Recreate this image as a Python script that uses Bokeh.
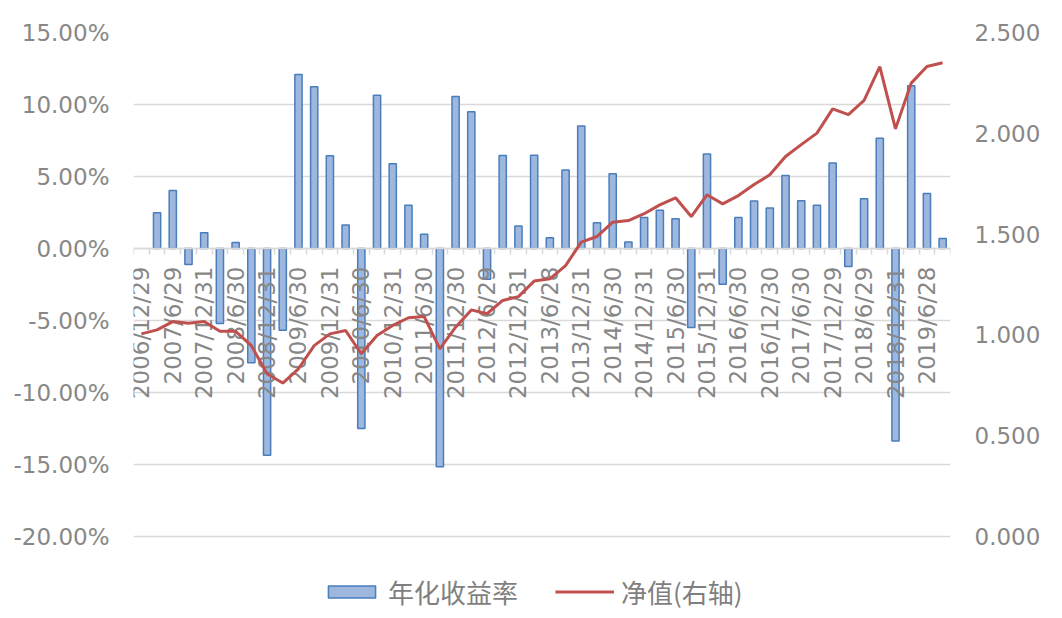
from math import pi
from bokeh.plotting import figure
from bokeh.models import (Range1d, LinearAxis, FixedTicker, PrintfTickFormatter,
                          NumeralTickFormatter, Legend, LegendItem, ColumnDataSource)
from bokeh.embed import file_html
from bokeh.resources import INLINE

# ---------------- data ----------------
dates = [
    "2006/12/29", "2007/3/30", "2007/6/29", "2007/9/28", "2007/12/31", "2008/3/31",
    "2008/6/30", "2008/9/30", "2008/12/31", "2009/3/31", "2009/6/30", "2009/9/30",
    "2009/12/31", "2010/3/31", "2010/6/30", "2010/9/30", "2010/12/31", "2011/3/31",
    "2011/6/30", "2011/9/30", "2011/12/30", "2012/3/30", "2012/6/29", "2012/9/28",
    "2012/12/31", "2013/3/29", "2013/6/28", "2013/9/30", "2013/12/31", "2014/3/31",
    "2014/6/30", "2014/9/30", "2014/12/31", "2015/3/31", "2015/6/30", "2015/9/30",
    "2015/12/31", "2016/3/31", "2016/6/30", "2016/9/30", "2016/12/30", "2017/3/31",
    "2017/6/30", "2017/9/29", "2017/12/29", "2018/3/30", "2018/6/29", "2018/9/28",
    "2018/12/31", "2019/3/29", "2019/6/28", "2019/9/30",
]

# 年化收益率 (%)
annual_return = [
    float("nan"), 2.48, 4.03, -1.11, 1.09, -5.21, 0.42, -7.94, -14.35, -5.67,
    12.08, 11.23, 6.44, 1.64, -12.50, 10.65, 5.88, 3.01, 0.99, -15.16,
    10.56, 9.49, -2.13, 6.46, 1.57, 6.48, 0.74, 5.46, 8.50, 1.78,
    5.19, 0.46, 2.15, 2.66, 2.06, -5.49, 6.57, -2.48, 2.15, 3.29,
    2.82, 5.07, 3.31, 3.01, 5.93, -1.25, 3.45, 7.66, -13.36, 11.30,
    3.82, 0.69,
]

# 净值 (右轴)
nav = [
    1.005, 1.025, 1.066, 1.058, 1.066, 1.018, 1.018, 0.947, 0.807, 0.761,
    0.832, 0.947, 1.005, 1.022, 0.906, 0.997, 1.047, 1.085, 1.091, 0.931,
    1.038, 1.124, 1.105, 1.171, 1.190, 1.267, 1.278, 1.344, 1.460, 1.488,
    1.559, 1.567, 1.601, 1.645, 1.680, 1.587, 1.695, 1.650, 1.691, 1.746,
    1.794, 1.885, 1.944, 2.001, 2.121, 2.093, 2.163, 2.331, 2.022, 2.249,
    2.331, 2.350,
]

left_ticks = [-20, -15, -10, -5, 0, 5, 10, 15]
right_ticks = [0.0, 0.5, 1.0, 1.5, 2.0, 2.5]
series_names = ["年化收益率", "净值(右轴)"]

# ---------------- chart ----------------
idx = list(range(len(dates)))
src = ColumnDataSource(dict(x=idx, ret=annual_return, nav=nav, date=dates))

TXT = "#878787"
GRID = "#d9d9d9"
FONT = "DejaVu Sans"
FS = "23px"

# layout: axis span -20%..15% (0..2.5) occupies 504 px; the frame continues
# below it to hold the legend.
W, H = 1046, 614
TOP, LEFT, RIGHT, BOTTOM = 32, 133, 96, 2
span_px = 504.0
frame_h = H - TOP - BOTTOM
extra = frame_h - span_px                      # px below the -20% line
lo_pct = -20 - extra * 35.0 / span_px
lo_nav = 0 - extra * 2.5 / span_px

p = figure(width=W, height=H, x_range=Range1d(-0.5, len(dates) - 0.5),
           y_range=Range1d(lo_pct, 15), output_backend="svg", toolbar_location=None,
           min_border_left=LEFT, min_border_right=RIGHT, min_border_top=TOP,
           min_border_bottom=BOTTOM)
p.outline_line_color = None
p.background_fill_color = "white"
p.border_fill_color = "white"
p.extra_y_ranges = {"nav": Range1d(lo_nav, 2.5)}

bars = p.vbar(x="x", top="ret", bottom=0, width=0.46, source=src,
              fill_color="#9db7df", line_color="#4a7ebb", line_width=1.5)
line = p.line(x="x", y="nav", y_range_name="nav", source=src,
              line_color="#c0504d", line_width=3)
line.level = "overlay"

# x axis (category labels at zero line)
xa = p.xaxis[0]
xa.ticker = FixedTicker(ticks=idx[::2], minor_ticks=[i - 0.5 for i in range(len(dates) + 1)])
xa.major_label_overrides = {i: dates[i] for i in idx[::2]}
xa.major_label_orientation = pi / 2
xa.fixed_location = 0
xa.axis_line_color = GRID
xa.axis_line_width = 1.5
xa.major_tick_line_color = None
xa.major_tick_out = 6
xa.major_tick_in = 0
xa.minor_tick_line_color = GRID
xa.minor_tick_line_width = 1.5
xa.minor_tick_out = 6
xa.minor_tick_in = 0
xa.major_label_standoff = 12
xa.major_label_text_color = TXT
xa.major_label_text_font = FONT
xa.major_label_text_font_size = FS

# left axis
ya = p.yaxis[0]
ya.ticker = FixedTicker(ticks=left_ticks)
ya.formatter = PrintfTickFormatter(format="%.2f%%")
ya.axis_line_color = None
ya.major_tick_line_color = None
ya.minor_tick_line_color = None
ya.major_tick_out = 0
ya.major_label_standoff = 24
ya.major_label_text_color = TXT
ya.major_label_text_font = FONT
ya.major_label_text_font_size = FS

# right axis
ra = LinearAxis(y_range_name="nav", ticker=FixedTicker(ticks=right_ticks),
                formatter=NumeralTickFormatter(format="0.000"))
ra.axis_line_color = None
ra.major_tick_line_color = None
ra.minor_tick_line_color = None
ra.major_tick_out = 0
ra.major_label_standoff = 24
ra.major_label_text_color = TXT
ra.major_label_text_font = FONT
ra.major_label_text_font_size = FS
p.add_layout(ra, "right")

p.xgrid.visible = False
p.ygrid.ticker = FixedTicker(ticks=left_ticks)
p.ygrid.grid_line_color = GRID
p.ygrid.grid_line_width = 1.5

legend = Legend(items=[LegendItem(label=series_names[0], renderers=[bars]),
                       LegendItem(label=series_names[1], renderers=[line])],
                orientation="horizontal", location=(189, 2),
                glyph_width=59, glyph_height=15, label_standoff=7, spacing=37,
                padding=0, margin=0, border_line_color=None, background_fill_alpha=0,
                label_text_font="Noto Sans CJK SC", label_text_font_size="26px",
                label_text_color="#7f7f7f")
p.add_layout(legend)

open("out.html", "w").write(file_html(p, INLINE))
